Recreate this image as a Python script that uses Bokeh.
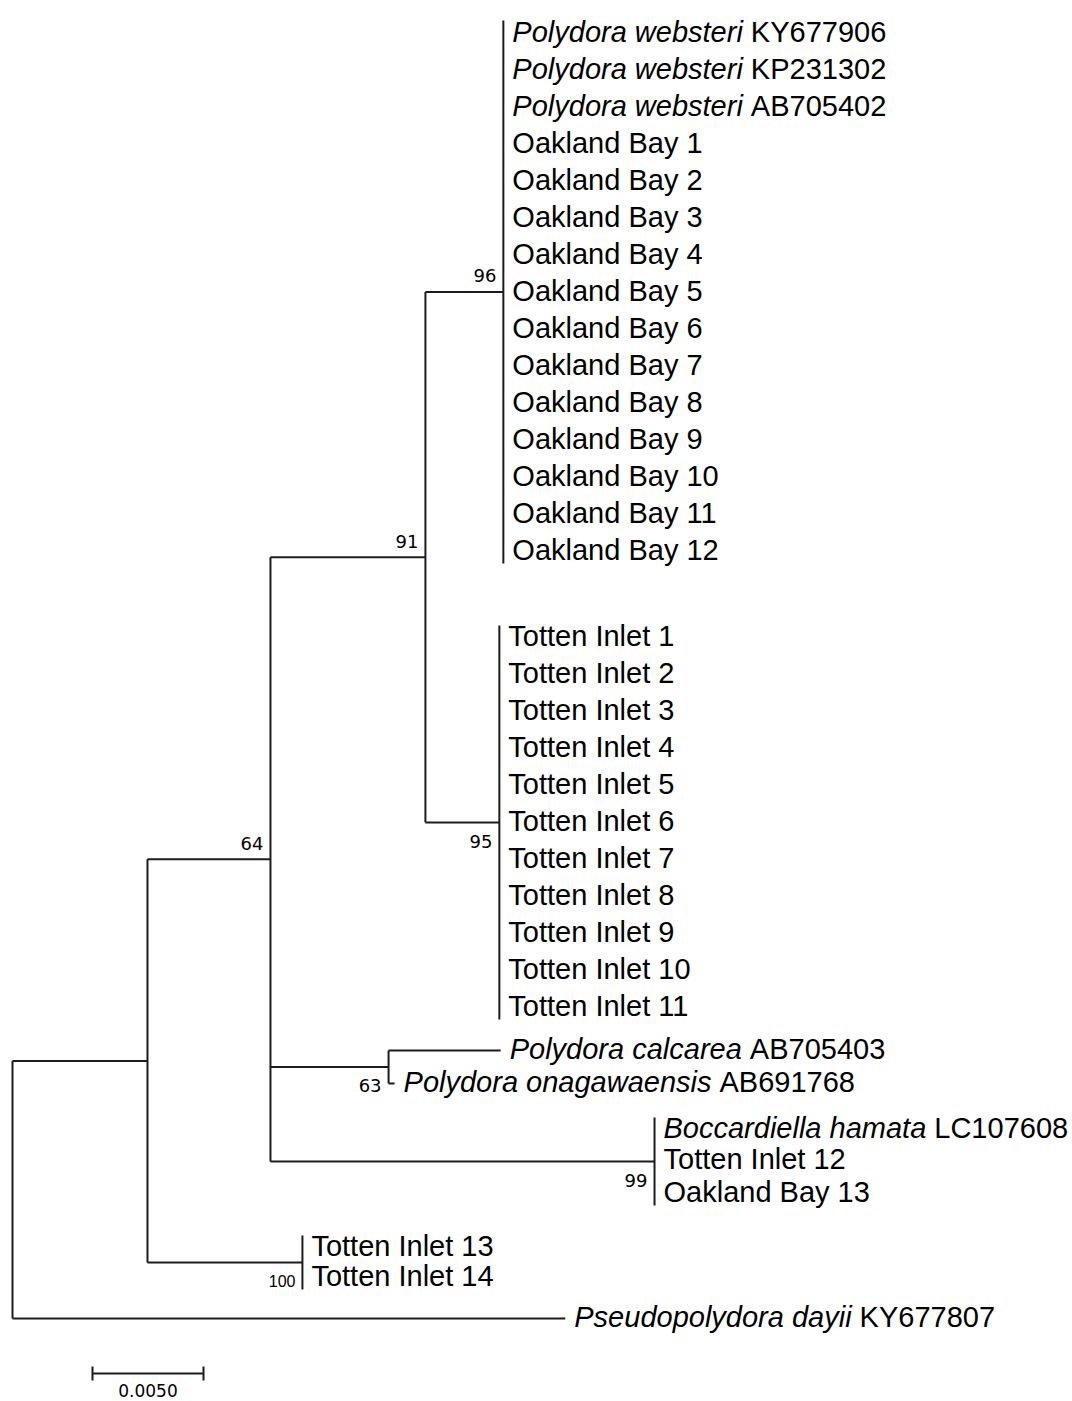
from bokeh.plotting import figure
from bokeh.models import Range1d, ColumnDataSource
from bokeh.core.properties import value
from bokeh.embed import file_html
from bokeh.resources import INLINE

# ---------------- data ----------------
leaf_genus = (["Polydora websteri"] * 3 + [""] * 12 + [""] * 11 +
              ["Polydora calcarea", "Polydora onagawaensis", "Boccardiella hamata",
               "", "", "", "", "Pseudopolydora dayii"])
leaf_tag = (["KY677906", "KP231302", "AB705402"] +
            ["Oakland Bay %d" % i for i in range(1, 13)] +
            ["Totten Inlet %d" % i for i in range(1, 12)] +
            ["AB705403", "AB691768", "LC107608", "Totten Inlet 12", "Oakland Bay 13",
             "Totten Inlet 13", "Totten Inlet 14", "KY677807"])
leaf_parent = (["OB"] * 15 + ["TI"] * 11 +
               ["D", "D", "E", "E", "E", "F", "F", "root"])
leaf_branch = ([0.0] * 15 + [0.0] * 11 +
               [0.00505, 0.00027, 0.0, 0.0, 0.0, 0.0, 0.0, 0.0249])

node_name = ["root", "A", "B", "C", "OB", "TI", "D", "E", "F"]
node_parent = [None, "root", "A", "B", "C", "C", "B", "B", "A"]
node_branch = [0.0, 0.00608, 0.00554, 0.00698, 0.00351, 0.00333, 0.00532, 0.0173, 0.00698]
node_support = [None, None, 64, 91, 96, 95, 63, 99, 100]
support_side = [None, None, "above", "above", "above", "below", "below", "below", "below"]

scale_length = 0.005
scale_text = "0.0050"

# ---------------- layout ----------------
PX = 22200.0          # pixels per substitution unit
X0_PAGE = 12.0        # page x of the root
FIG_W, FIG_H = 1072, 1401
row_gaps = [0] + [37.07] * 14 + [86] + [37.0] * 10 + [43, 33, 46, 31, 33, 54, 30, 41]
first_row = 32.0

def px(d):
    return d / PX

leaf_y = []
acc = first_row
for g in row_gaps:
    acc += g
    leaf_y.append(acc)

node_x = {}
for n, par, b in zip(node_name, node_parent, node_branch):
    node_x[n] = 0.0 if par is None else node_x[par] + b
leaf_x = [node_x[p] + b for p, b in zip(leaf_parent, leaf_branch)]

node_y = {}
node_span = {}
for n in reversed(node_name):
    ys = [leaf_y[i] for i, p in enumerate(leaf_parent) if p == n]
    zero_only = all(leaf_branch[i] == 0 for i, p in enumerate(leaf_parent) if p == n)
    kids = [c for c, p in zip(node_name, node_parent) if p == n]
    ys += [node_y[c] for c in kids]
    lo, hi = min(ys), max(ys)
    node_y[n] = (lo + hi) / 2
    pad = 12 if (zero_only and not kids) else 0
    node_span[n] = (lo - pad, hi + pad)

x0s, y0s, x1s, y1s = [], [], [], []
for n, par in zip(node_name, node_parent):
    lo, hi = node_span[n]
    x0s.append(node_x[n]); x1s.append(node_x[n]); y0s.append(lo); y1s.append(hi)
    if par is not None:
        x0s.append(node_x[par]); x1s.append(node_x[n]); y0s.append(node_y[n]); y1s.append(node_y[n])
for i, p in enumerate(leaf_parent):
    if leaf_branch[i] > 0:
        x0s.append(node_x[p]); x1s.append(leaf_x[i]); y0s.append(leaf_y[i]); y1s.append(leaf_y[i])

# Arial / Liberation Sans advance widths (1/1000 em)
W = {' ': 278, 'P': 667, 'o': 556, 'l': 222, 'y': 500, 'd': 556, 'r': 333, 'a': 556,
     'w': 722, 'e': 556, 'b': 556, 's': 500, 't': 278, 'i': 222, 'c': 500, 'n': 556,
     'g': 556, 'B': 667, 'h': 556, 'm': 833, 'u': 556, 'p': 556, 'k': 500}

def text_w(s, size):
    return sum(W.get(ch, 556) for ch in s) * size / 1000.0

FS = 29
it_x, it_y, it_t, pl_x, pl_y, pl_t = [], [], [], [], [], []
for i in range(len(leaf_tag)):
    start = leaf_x[i] + px(9)
    y = leaf_y[i] - 1
    if leaf_genus[i]:
        it_x.append(start); it_y.append(y); it_t.append(leaf_genus[i])
        start += px(text_w(leaf_genus[i] + " ", FS))
    pl_x.append(start); pl_y.append(y); pl_t.append(leaf_tag[i])

bs_x, bs_y, bs_t, bs_font, bs_size = [], [], [], [], []
for n, s, side in zip(node_name, node_support, support_side):
    if s is None:
        continue
    bs_x.append(node_x[n] - px(7))
    bs_y.append(node_y[n] + (-16 if side == "above" else 19))
    bs_t.append(str(s))
    if s >= 100:
        bs_font.append("Liberation Sans"); bs_size.append("16px")
    else:
        bs_font.append("DejaVu Sans"); bs_size.append("18px")

# ---------------- figure ----------------
p = figure(width=FIG_W, height=FIG_H, output_backend="svg", toolbar_location=None,
           x_axis_location=None, y_axis_location=None,
           x_range=Range1d(px(0 - X0_PAGE), px(FIG_W - X0_PAGE)),
           y_range=Range1d(FIG_H, 0))
p.min_border = 0
p.min_border_left = p.min_border_right = p.min_border_top = p.min_border_bottom = 0
p.outline_line_color = None
p.grid.visible = False
p.background_fill_color = "white"
p.border_fill_color = "white"

LC = "#1c1c1c"
p.segment(x0=x0s, y0=y0s, x1=x1s, y1=y1s, line_color=LC, line_width=2)

p.text(x=it_x, y=it_y, text=it_t, text_font=value("Liberation Sans"),
       text_font_style="italic", text_font_size="%dpx" % FS, text_baseline="middle",
       text_align="left", text_color="black")
p.text(x=pl_x, y=pl_y, text=pl_t, text_font=value("Liberation Sans"),
       text_font_size="%dpx" % FS, text_baseline="middle", text_align="left", text_color="black")

src_bs = ColumnDataSource(dict(x=bs_x, y=bs_y, text=bs_t, font=bs_font, size=bs_size))
p.text(x="x", y="y", text="text", text_font="font", text_font_size="size", source=src_bs,
       text_baseline="middle", text_align="right", text_color="black")

# scale bar
sb_x0 = px(92 - X0_PAGE)
sb_y = 1373
p.segment(x0=[sb_x0, sb_x0, sb_x0 + scale_length], y0=[sb_y, sb_y - 7, sb_y - 7],
          x1=[sb_x0 + scale_length, sb_x0, sb_x0 + scale_length], y1=[sb_y, sb_y + 7, sb_y + 7],
          line_color=LC, line_width=2)
p.text(x=[sb_x0 + scale_length / 2], y=[sb_y + 17], text=[scale_text],
       text_font=value("DejaVu Sans"), text_font_size="17px", text_baseline="middle",
       text_align="center", text_color="black")

open("out.html", "w").write(file_html(p, INLINE))
